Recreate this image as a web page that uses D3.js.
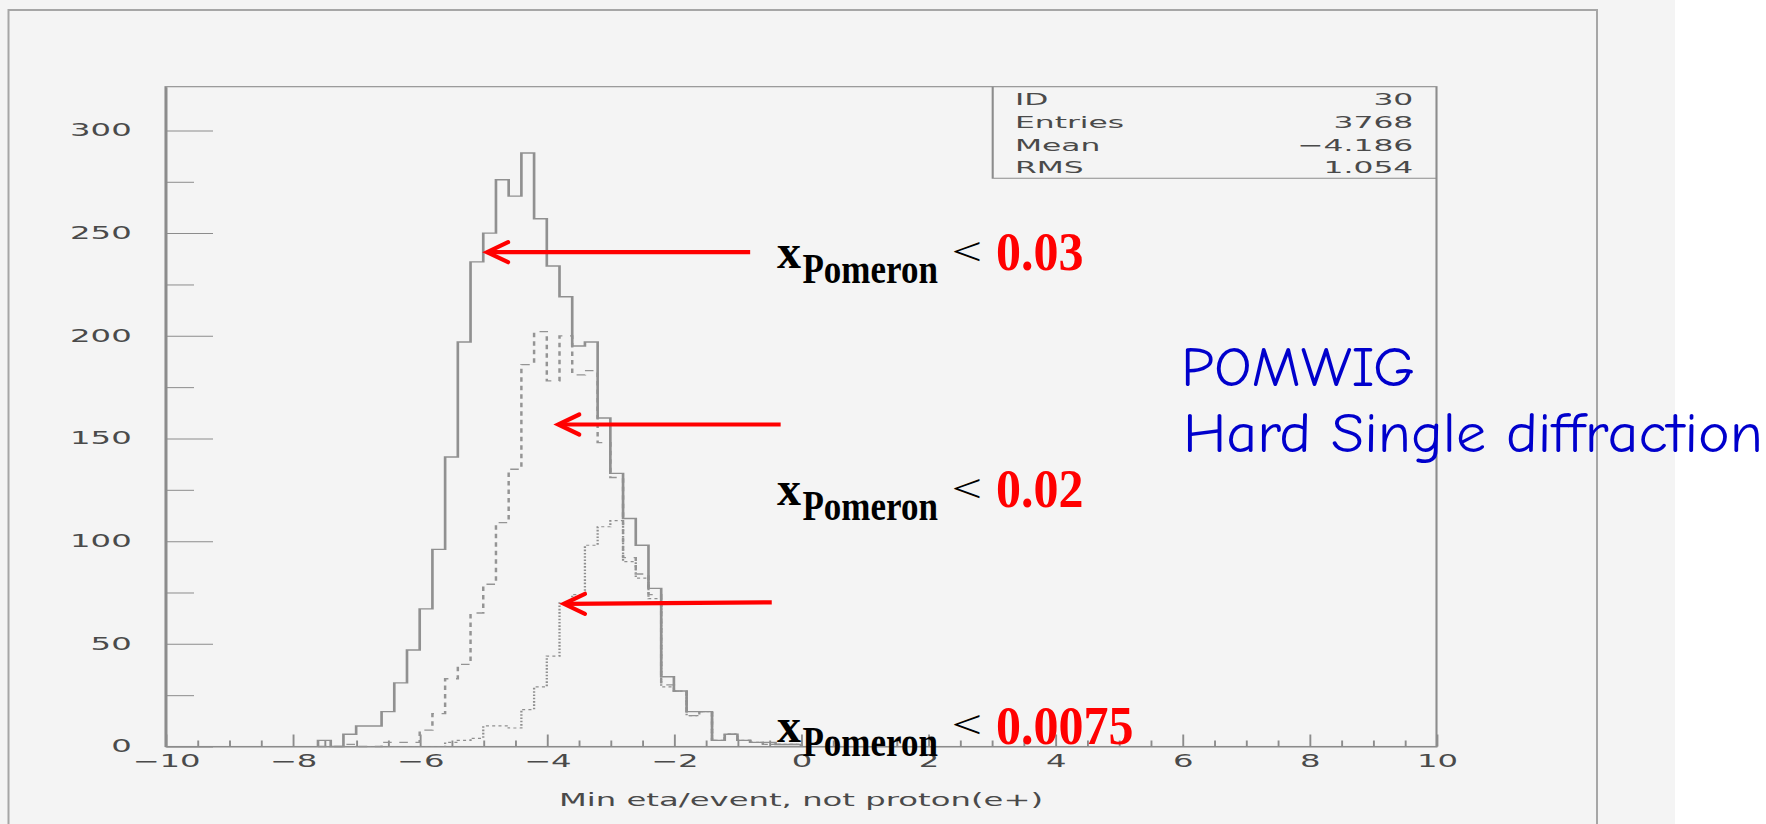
<!DOCTYPE html>
<html>
<head>
<meta charset="utf-8">
<script src="https://cdn.jsdelivr.net/npm/d3@7"></script>
<style>
  html, body { margin: 0; padding: 0; background: #ffffff; }
  svg { display: block; }
</style>
</head>
<body>
<svg id="chart" width="1766" height="824"></svg>
<script>
// ---- data: min eta per event (not proton, e+), 0.2-wide bins, lower edges ----
const binLow = [-7.6, -7.4, -7.2, -7.0, -6.8, -6.6, -6.4, -6.2, -6.0, -5.8,
                -5.6, -5.4, -5.2, -5.0, -4.8, -4.6, -4.4, -4.2, -4.0, -3.8,
                -3.6, -3.4, -3.2, -3.0, -2.8, -2.6, -2.4, -2.2, -2.0, -1.8,
                -1.6, -1.4, -1.2, -1.0, -0.8, -0.6, -0.4, -0.2];
const binWidth = 0.2;

// x_Pomeron < 0.03 (solid)
const countsX003 = [3, 0, 6, 10, 10, 17, 31, 47, 67, 96,
                    141, 197, 236, 250, 276, 268, 289, 257, 234, 219,
                    195, 197, 160, 133, 111, 98, 77, 34, 27, 17,
                    17, 3, 6, 3, 2, 2, 1, 1];
// x_Pomeron < 0.02 (dashed)
const countsX002 = [0, 0, 1, 0, 0, 2, 2, 2, 8, 16,
                    33, 40, 65, 79, 109, 135, 186, 202, 178, 200,
                    181, 183, 148, 131, 92, 84, 74, 30, 27, 15,
                    17, 3, 6, 3, 2, 1, 1, 1];
// x_Pomeron < 0.0075 (dotted)
const countsX0075 = [0, 0, 0, 0, 0, 0, 0, 0, 0, 0,
                     2, 3, 4, 10, 10, 9, 18, 29, 44, 70,
                     74, 98, 107, 110, 90, 82, 72, 29, 27, 15,
                     17, 3, 6, 3, 2, 1, 1, 1];

const xTickValues = [-10, -8, -6, -4, -2, 0, 2, 4, 6, 8, 10];
const yTickValues = [0, 50, 100, 150, 200, 250, 300];
const yMinorTicks = [25, 75, 125, 175, 225, 275];

const statLabels = ["ID", "Entries", "Mean", "RMS"];
const statValues = ["30", "3768", "\u22124.186", "1.054"];
const xTitle = "Min eta/event, not proton(e+)";

const cutLabels = ["0.03", "0.02", "0.0075"];
// arrows: tip (eta, entries) and tail (eta, entries)
const arrowTipX = [-4.94, -3.82, -3.73];
const arrowTipY = [240.7, 156.8, 69.5];
const arrowTailX = [-0.80, -0.32, -0.46];
const arrowTailY = [240.7, 156.8, 70.2];

const titleLines = ["POMWIG", "Hard Single diffraction"];

// ---- layout ----
const W = 1766, H = 824;
const K = 1.9;               // horizontal stretch of the PAW panel
const yMax = 321.3;
const frame = { left: 165.5, right: 1436.5, top: 86.7, bottom: 746.5 };
const pawFont = "'DejaVu Sans', 'Liberation Sans', sans-serif";
const serif = "'Liberation Serif', 'Times New Roman', serif";
const axisGrey = "#8c8c8c";
const textGrey = "#4a4a4a";

const svg = d3.select("#chart");

// page background and pad border
svg.append("rect").attr("x", 0).attr("y", 0).attr("width", 1675).attr("height", H).attr("fill", "#f4f4f4");
svg.append("path")
  .attr("d", `M8.5,${H + 5}V10H1597V${H + 5}`)
  .attr("fill", "none").attr("stroke", "#a6a6a6").attr("stroke-width", 2);

// the histogram panel is drawn in its own coordinates and stretched horizontally
const panel = svg.append("g").attr("transform", `scale(${K},1)`);

const x = d3.scaleLinear().domain([-10, 10]).range([frame.left / K, frame.right / K]);
const y = d3.scaleLinear().domain([0, yMax]).range([frame.bottom, frame.top]);

// frame
panel.append("rect")
  .attr("x", x(-10)).attr("y", frame.top)
  .attr("width", x(10) - x(-10)).attr("height", frame.bottom - frame.top)
  .attr("fill", "none").attr("stroke", axisGrey).attr("stroke-width", 1.1);

// y axis (ticks point inward)
const yAxis = panel.append("g")
  .attr("transform", `translate(${x(-10)},0)`)
  .call(d3.axisLeft(y).tickValues(yTickValues).tickSize(-25).tickSizeOuter(0).tickPadding(17.8));
const yMinor = panel.append("g")
  .attr("transform", `translate(${x(-10)},0)`)
  .call(d3.axisLeft(y).tickValues(yMinorTicks).tickSize(-15).tickFormat(""));

// x axis
const xAxis = panel.append("g")
  .attr("transform", `translate(0,${frame.bottom})`)
  .call(d3.axisBottom(x).tickValues(xTickValues).tickSize(-12).tickSizeOuter(0).tickPadding(8.5));
const xMinor = panel.append("g")
  .attr("transform", `translate(0,${frame.bottom})`)
  .call(d3.axisBottom(x).tickValues(d3.range(-9.5, 10, 0.5).filter(v => Math.abs(v % 2) > 1e-6)).tickSize(-6).tickFormat(""));

[yAxis, yMinor, xAxis, xMinor].forEach(g => {
  g.select(".domain").attr("stroke", axisGrey).attr("stroke-width", 1.1);
  g.selectAll(".tick line").attr("stroke", axisGrey).attr("stroke-width", 1);
  g.selectAll("text").attr("fill", textGrey).attr("font-family", pawFont).attr("font-size", 17);
});
yMinor.select(".domain").remove();
xMinor.select(".domain").remove();

// x axis title
panel.append("text")
  .attr("x", (x(-10) + x(10)) / 2).attr("y", 806)
  .attr("text-anchor", "middle")
  .attr("font-family", pawFont).attr("font-size", 17).attr("fill", textGrey)
  .text(xTitle);

// statistics box
const boxLeft = 992.7 / K, boxBottom = 178.3;
panel.append("path")
  .attr("d", `M${boxLeft},${frame.top}V${boxBottom}H${x(10)}`)
  .attr("fill", "none").attr("stroke", axisGrey).attr("stroke-width", 1.1);
statLabels.forEach((lab, i) => {
  const base = 105 + i * 22.8;
  panel.append("text").attr("x", 1015 / K).attr("y", base)
    .attr("font-family", pawFont).attr("font-size", 16.5).attr("fill", textGrey).text(lab);
  panel.append("text").attr("x", 1413.3 / K).attr("y", base).attr("text-anchor", "end")
    .attr("font-family", pawFont).attr("font-size", 16.5).attr("fill", textGrey).text(statValues[i]);
});

// step histograms
function stepPoints(counts) {
  const pts = [[binLow[0], 0]];
  binLow.forEach((lo, i) => pts.push([lo, counts[i]]));
  pts.push([binLow[binLow.length - 1] + binWidth, 0]);
  return pts;
}
const step = d3.line().x(d => x(d[0])).y(d => y(d[1])).curve(d3.curveStepAfter);

const series = [
  { counts: countsX0075, color: "#8f8f8f", width: 1.2, dash: "1.6,1.7" },
  { counts: countsX002, color: "#949494", width: 1.3, dash: "4.5,4" },
  { counts: countsX003, color: "#909090", width: 1.4, dash: null }
];
series.forEach(s => {
  panel.append("path")
    .attr("d", step(stepPoints(s.counts)))
    .attr("fill", "none")
    .attr("stroke", s.color)
    .attr("stroke-width", s.width)
    .attr("stroke-dasharray", s.dash);
});

// ---- annotations (unstretched) ----
const anno = svg.append("g");
const px = v => K * x(v);

arrowTipX.forEach((tx, i) => {
  const x1 = px(tx), y1 = y(arrowTipY[i]);
  const x2 = px(arrowTailX[i]), y2 = y(arrowTailY[i]);
  anno.append("line")
    .attr("x1", x1 + 1).attr("y1", y1).attr("x2", x2).attr("y2", y2)
    .attr("stroke", "#ff0000").attr("stroke-width", 4.2);
  anno.append("path")
    .attr("d", `M${x1 + 21},${y1 - 10}L${x1},${y1}L${x1 + 21},${y1 + 10}`)
    .attr("fill", "none").attr("stroke", "#ff0000").attr("stroke-width", 4.2)
    .attr("stroke-linecap", "round").attr("stroke-linejoin", "miter");
});

const cutBase = 268.3, cutStep = 236.8;
cutLabels.forEach((lab, i) => {
  const b = cutBase + i * cutStep;
  anno.append("text").attr("x", 777).attr("y", b)
    .attr("font-family", serif).attr("font-weight", "bold").attr("font-size", 48)
    .attr("fill", "#000").text("x");
  anno.append("text").attr("transform", `translate(802.5,${b + 14.4}) scale(1,1.2)`)
    .attr("font-family", serif).attr("font-weight", "bold").attr("font-size", 35)
    .attr("fill", "#000").text("Pomeron");
  anno.append("text").attr("transform", `translate(951.5,${b - 3.5}) scale(1.13,0.85)`)
    .attr("font-family", serif).attr("font-size", 48)
    .attr("fill", "#000").text("<");
  anno.append("text").attr("transform", `translate(996,${b + 1.7}) scale(1,1.08)`)
    .attr("font-family", serif).attr("font-weight", "bold").attr("font-size", 50)
    .attr("fill", "#ff0000").text(lab);
});

const titleX = [1181, 1183], titleBase = [386, 451.7], titleLen = [234, 580];
titleLines.forEach((t, i) => {
  anno.append("text")
    .attr("x", titleX[i]).attr("y", titleBase[i])
    .attr("font-family", "'Comic Sans MS', 'Comic Neue', 'Noto Sans', sans-serif")
    .attr("font-size", 56).attr("fill", "#0000cc")
    .attr("textLength", titleLen[i]).attr("lengthAdjust", "spacingAndGlyphs")
    .text(t);
});
</script>
</body>
</html>
